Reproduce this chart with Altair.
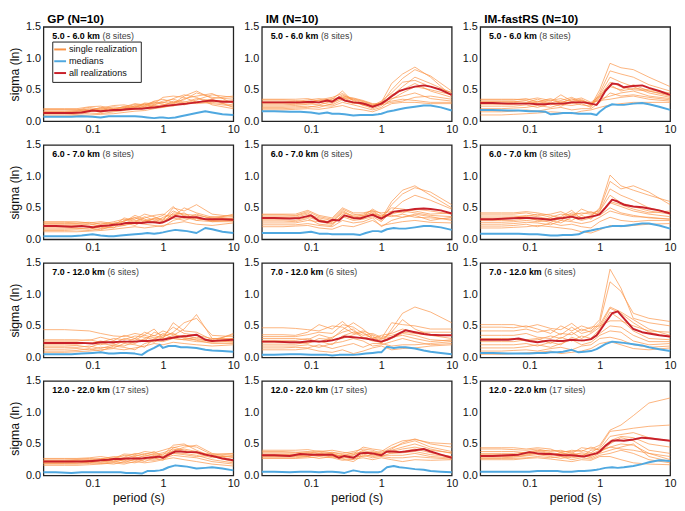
import altair as alt
import pandas as pd

# period grids (s)
FINE = [0.02, 0.03, 0.05, 0.07, 0.1, 0.13, 0.17, 0.2, 0.25, 0.3, 0.4, 0.5, 0.6, 0.75, 0.9,
        1.0, 1.2, 1.5, 1.8, 2.2, 3.0, 4.0, 5.0, 7.0, 10.0]
COARSE = [0.02, 0.04, 0.06, 0.09, 0.13, 0.2, 0.28, 0.4, 0.55, 0.75, 1.0, 1.4, 2.0, 3.0, 5.0, 10.0]

MODEL_TITLES = ["GP (N=10)", "IM (N=10)", "IM-fastRS (N=10)"]
BINS = ["5.0 - 6.0 km", "6.0 - 7.0 km", "7.0 - 12.0 km", "12.0 - 22.0 km"]
SITES = ["(8 sites)", "(8 sites)", "(6 sites)", "(17 sites)"]
KINDS = ["single realization", "medians", "all realizations"]

# ---------------- row 1: 5.0 - 6.0 km ----------------
GP_1_ALL = [0.13,0.13,0.13,0.14,0.17,0.16,0.17,0.18,0.18,0.19,0.20,0.20,0.21,0.22,0.23,0.24,0.25,0.26,0.27,0.28,0.30,0.32,0.33,0.31,0.31]
GP_1_MED = [0.07,0.07,0.07,0.08,0.07,0.06,0.08,0.08,0.08,0.08,0.08,0.07,0.06,0.05,0.06,0.06,0.05,0.06,0.08,0.10,0.13,0.16,0.14,0.11,0.10]
GP_1_SINGLE = [
    [0.08,0.08,0.09,0.10,0.11,0.12,0.14,0.16,0.17,0.20,0.22,0.25,0.28,0.30,0.32,0.30],
    [0.10,0.10,0.11,0.13,0.12,0.15,0.17,0.19,0.22,0.24,0.26,0.30,0.34,0.45,0.38,0.35],
    [0.12,0.12,0.13,0.16,0.18,0.16,0.20,0.24,0.20,0.26,0.30,0.28,0.40,0.48,0.36,0.40],
    [0.13,0.13,0.14,0.18,0.14,0.19,0.18,0.22,0.27,0.22,0.24,0.32,0.28,0.34,0.42,0.38],
    [0.14,0.14,0.15,0.15,0.20,0.17,0.22,0.20,0.24,0.30,0.27,0.24,0.31,0.28,0.30,0.26],
    [0.15,0.15,0.16,0.20,0.17,0.21,0.19,0.25,0.23,0.27,0.32,0.35,0.30,0.36,0.33,0.32],
    [0.16,0.16,0.17,0.17,0.22,0.18,0.24,0.21,0.28,0.25,0.22,0.27,0.36,0.40,0.44,0.28],
    [0.18,0.18,0.18,0.22,0.19,0.23,0.21,0.27,0.25,0.32,0.35,0.30,0.26,0.32,0.28,0.24],
    [0.19,0.19,0.19,0.18,0.21,0.25,0.26,0.23,0.29,0.28,0.38,0.40,0.38,0.30,0.35,0.22],
    [0.20,0.20,0.20,0.23,0.24,0.20,0.23,0.28,0.26,0.31,0.29,0.36,0.42,0.38,0.26,0.20],
]
IM_1_ALL = [0.30,0.30,0.30,0.30,0.31,0.30,0.33,0.31,0.38,0.33,0.30,0.29,0.27,0.23,0.26,0.28,0.34,0.42,0.48,0.51,0.55,0.57,0.55,0.50,0.42]
IM_1_MED = [0.16,0.16,0.15,0.15,0.14,0.12,0.14,0.12,0.12,0.11,0.09,0.10,0.10,0.10,0.11,0.12,0.15,0.17,0.19,0.21,0.23,0.25,0.25,0.22,0.17]
IM_1_SINGLE = [
    [0.18,0.18,0.19,0.20,0.19,0.22,0.25,0.20,0.18,0.15,0.20,0.28,0.30,0.30,0.28,0.28],
    [0.20,0.20,0.21,0.22,0.25,0.24,0.30,0.26,0.22,0.18,0.22,0.35,0.45,0.55,0.50,0.42],
    [0.22,0.22,0.23,0.24,0.22,0.28,0.38,0.30,0.26,0.20,0.25,0.40,0.55,0.70,0.60,0.45],
    [0.24,0.24,0.25,0.27,0.30,0.26,0.34,0.28,0.30,0.22,0.28,0.50,0.68,0.82,0.72,0.48],
    [0.26,0.26,0.27,0.28,0.26,0.32,0.42,0.33,0.25,0.24,0.30,0.60,0.75,0.86,0.70,0.40],
    [0.28,0.28,0.28,0.30,0.33,0.30,0.36,0.35,0.31,0.26,0.27,0.42,0.50,0.60,0.48,0.38],
    [0.30,0.30,0.30,0.32,0.29,0.35,0.48,0.31,0.28,0.23,0.30,0.36,0.40,0.45,0.36,0.32],
    [0.32,0.32,0.31,0.34,0.36,0.33,0.40,0.37,0.33,0.28,0.26,0.30,0.32,0.38,0.40,0.35],
    [0.34,0.34,0.33,0.31,0.34,0.38,0.44,0.34,0.29,0.25,0.32,0.45,0.62,0.65,0.55,0.46],
    [0.35,0.35,0.35,0.36,0.32,0.36,0.38,0.36,0.32,0.27,0.29,0.32,0.35,0.33,0.30,0.30],
]
FRS_1_ALL = [0.29,0.29,0.28,0.28,0.28,0.27,0.27,0.28,0.28,0.28,0.30,0.30,0.30,0.28,0.26,0.33,0.48,0.60,0.59,0.54,0.56,0.57,0.53,0.48,0.42]
FRS_1_MED = [0.18,0.18,0.17,0.17,0.16,0.16,0.15,0.11,0.12,0.13,0.13,0.12,0.12,0.12,0.10,0.15,0.22,0.27,0.26,0.26,0.28,0.29,0.27,0.23,0.18]
FRS_1_SINGLE = [
    [0.10,0.10,0.11,0.12,0.13,0.15,0.14,0.12,0.16,0.18,0.22,0.26,0.28,0.30,0.30,0.30],
    [0.15,0.15,0.16,0.18,0.16,0.20,0.22,0.18,0.20,0.20,0.30,0.45,0.40,0.42,0.38,0.34],
    [0.20,0.20,0.21,0.22,0.25,0.22,0.27,0.25,0.28,0.22,0.40,0.62,0.55,0.50,0.48,0.40],
    [0.24,0.24,0.24,0.26,0.22,0.28,0.24,0.30,0.26,0.24,0.45,0.80,0.75,0.70,0.58,0.48],
    [0.27,0.27,0.27,0.29,0.32,0.26,0.31,0.28,0.33,0.25,0.50,0.92,0.85,0.82,0.70,0.55],
    [0.29,0.29,0.30,0.28,0.30,0.34,0.29,0.36,0.30,0.27,0.38,0.55,0.50,0.58,0.48,0.42],
    [0.31,0.31,0.31,0.33,0.28,0.31,0.42,0.32,0.35,0.26,0.42,0.70,0.62,0.55,0.45,0.38],
    [0.32,0.32,0.32,0.30,0.35,0.29,0.33,0.38,0.31,0.28,0.35,0.40,0.45,0.48,0.40,0.36],
    [0.34,0.34,0.34,0.36,0.31,0.36,0.30,0.34,0.37,0.30,0.40,0.58,0.48,0.52,0.50,0.45],
    [0.35,0.35,0.35,0.34,0.37,0.33,0.36,0.31,0.33,0.29,0.33,0.35,0.38,0.40,0.35,0.32],
]

# ---------------- row 2: 6.0 - 7.0 km ----------------
GP_2_ALL = [0.21,0.21,0.20,0.21,0.19,0.21,0.22,0.23,0.24,0.26,0.26,0.26,0.27,0.27,0.26,0.27,0.31,0.37,0.36,0.35,0.35,0.32,0.32,0.32,0.31]
GP_2_MED = [0.05,0.05,0.05,0.06,0.08,0.06,0.05,0.05,0.06,0.07,0.08,0.09,0.10,0.09,0.10,0.11,0.13,0.15,0.14,0.13,0.10,0.18,0.16,0.12,0.10]
GP_2_SINGLE = [
    [0.12,0.12,0.12,0.13,0.14,0.16,0.18,0.20,0.18,0.20,0.22,0.25,0.28,0.24,0.22,0.26],
    [0.14,0.14,0.15,0.14,0.17,0.19,0.22,0.26,0.24,0.22,0.20,0.30,0.35,0.30,0.28,0.30],
    [0.16,0.16,0.17,0.18,0.15,0.22,0.26,0.22,0.30,0.28,0.26,0.42,0.40,0.38,0.34,0.32],
    [0.18,0.18,0.18,0.16,0.20,0.18,0.30,0.34,0.28,0.32,0.30,0.50,0.45,0.55,0.40,0.36],
    [0.20,0.20,0.20,0.21,0.18,0.24,0.22,0.28,0.36,0.30,0.28,0.36,0.50,0.42,0.35,0.38],
    [0.22,0.22,0.22,0.20,0.23,0.21,0.34,0.30,0.26,0.34,0.32,0.45,0.38,0.34,0.30,0.30],
    [0.24,0.24,0.24,0.25,0.21,0.26,0.28,0.38,0.32,0.26,0.35,0.40,0.33,0.40,0.32,0.40],
    [0.25,0.25,0.25,0.23,0.26,0.24,0.25,0.32,0.40,0.36,0.30,0.38,0.42,0.30,0.36,0.33],
    [0.27,0.27,0.26,0.27,0.24,0.28,0.32,0.27,0.34,0.38,0.40,0.34,0.30,0.36,0.28,0.28],
    [0.28,0.28,0.28,0.26,0.28,0.25,0.29,0.35,0.30,0.33,0.38,0.52,0.36,0.33,0.30,0.34],
]
IM_2_ALL = [0.34,0.34,0.33,0.34,0.38,0.29,0.27,0.31,0.30,0.38,0.34,0.33,0.36,0.39,0.35,0.33,0.38,0.44,0.45,0.46,0.48,0.49,0.48,0.46,0.41]
IM_2_MED = [0.10,0.10,0.10,0.10,0.12,0.09,0.09,0.08,0.08,0.08,0.08,0.07,0.10,0.13,0.13,0.12,0.16,0.18,0.17,0.17,0.19,0.21,0.21,0.19,0.15]
IM_2_SINGLE = [
    [0.20,0.20,0.21,0.22,0.18,0.16,0.22,0.20,0.25,0.30,0.22,0.25,0.28,0.30,0.27,0.26],
    [0.23,0.23,0.23,0.25,0.22,0.20,0.30,0.26,0.28,0.34,0.20,0.30,0.35,0.40,0.36,0.30],
    [0.26,0.26,0.26,0.30,0.28,0.24,0.36,0.30,0.32,0.36,0.28,0.45,0.60,0.70,0.62,0.48],
    [0.29,0.29,0.28,0.33,0.24,0.22,0.40,0.32,0.35,0.40,0.30,0.55,0.72,0.82,0.75,0.55],
    [0.31,0.31,0.30,0.35,0.30,0.27,0.44,0.35,0.38,0.42,0.33,0.60,0.78,0.85,0.70,0.50],
    [0.33,0.33,0.33,0.37,0.32,0.25,0.38,0.33,0.36,0.44,0.35,0.40,0.45,0.42,0.38,0.36],
    [0.35,0.35,0.35,0.40,0.34,0.30,0.46,0.36,0.33,0.40,0.38,0.36,0.40,0.35,0.34,0.32],
    [0.37,0.37,0.37,0.42,0.30,0.28,0.42,0.38,0.40,0.46,0.36,0.50,0.48,0.45,0.40,0.42],
    [0.39,0.39,0.38,0.44,0.36,0.32,0.48,0.40,0.37,0.48,0.40,0.38,0.35,0.38,0.30,0.35],
    [0.40,0.40,0.40,0.46,0.38,0.34,0.50,0.42,0.42,0.45,0.42,0.44,0.42,0.48,0.45,0.40],
]
FRS_2_ALL = [0.32,0.32,0.33,0.34,0.34,0.33,0.32,0.31,0.33,0.34,0.36,0.33,0.34,0.36,0.38,0.40,0.50,0.63,0.60,0.55,0.52,0.51,0.49,0.46,0.41]
FRS_2_MED = [0.09,0.09,0.09,0.09,0.08,0.08,0.07,0.06,0.06,0.07,0.07,0.08,0.12,0.14,0.16,0.17,0.19,0.21,0.21,0.21,0.23,0.25,0.25,0.22,0.17]
FRS_2_SINGLE = [
    [0.18,0.18,0.19,0.20,0.22,0.20,0.18,0.16,0.12,0.10,0.15,0.22,0.20,0.22,0.24,0.25],
    [0.21,0.21,0.22,0.24,0.20,0.26,0.22,0.24,0.20,0.18,0.28,0.35,0.30,0.28,0.30,0.30],
    [0.24,0.24,0.25,0.27,0.26,0.23,0.30,0.28,0.25,0.28,0.35,0.45,0.40,0.36,0.35,0.32],
    [0.27,0.27,0.28,0.30,0.28,0.30,0.26,0.35,0.30,0.34,0.40,0.58,0.52,0.45,0.40,0.36],
    [0.30,0.30,0.30,0.33,0.31,0.27,0.34,0.30,0.38,0.32,0.45,0.80,0.70,0.62,0.50,0.42],
    [0.32,0.32,0.33,0.35,0.30,0.34,0.30,0.40,0.34,0.36,0.50,1.02,0.85,0.78,0.70,0.60],
    [0.34,0.34,0.35,0.38,0.36,0.32,0.36,0.46,0.32,0.38,0.48,0.92,0.80,0.85,0.75,0.55],
    [0.37,0.37,0.37,0.36,0.40,0.35,0.40,0.38,0.42,0.40,0.42,0.60,0.55,0.48,0.42,0.45],
    [0.40,0.40,0.40,0.42,0.38,0.40,0.44,0.36,0.48,0.42,0.45,0.70,0.58,0.52,0.45,0.40],
    [0.42,0.42,0.42,0.44,0.42,0.38,0.34,0.42,0.40,0.44,0.38,0.50,0.42,0.38,0.34,0.32],
]

# ---------------- row 3: 7.0 - 12.0 km ----------------
GP_3_ALL = [0.23,0.23,0.23,0.23,0.22,0.24,0.24,0.24,0.25,0.25,0.25,0.26,0.26,0.27,0.28,0.28,0.30,0.32,0.33,0.34,0.36,0.28,0.26,0.27,0.28]
GP_3_MED = [0.05,0.05,0.05,0.06,0.07,0.08,0.06,0.06,0.07,0.07,0.06,0.04,0.10,0.15,0.20,0.15,0.18,0.18,0.16,0.16,0.15,0.12,0.11,0.10,0.09]
GP_3_SINGLE = [
    [0.08,0.08,0.09,0.10,0.12,0.14,0.12,0.15,0.18,0.22,0.20,0.24,0.22,0.20,0.18,0.20],
    [0.10,0.10,0.11,0.14,0.10,0.18,0.16,0.12,0.22,0.26,0.25,0.30,0.28,0.25,0.24,0.25],
    [0.13,0.13,0.14,0.12,0.16,0.15,0.22,0.20,0.16,0.30,0.28,0.35,0.45,0.68,0.30,0.30],
    [0.16,0.16,0.16,0.18,0.14,0.20,0.18,0.25,0.28,0.24,0.32,0.40,0.55,0.62,0.35,0.33],
    [0.18,0.18,0.19,0.16,0.22,0.19,0.26,0.22,0.30,0.35,0.30,0.55,0.42,0.40,0.28,0.36],
    [0.21,0.21,0.21,0.23,0.20,0.26,0.23,0.30,0.26,0.40,0.35,0.48,0.38,0.35,0.30,0.28],
    [0.24,0.24,0.24,0.22,0.26,0.22,0.30,0.27,0.36,0.45,0.30,0.32,0.35,0.30,0.25,0.38],
    [0.26,0.26,0.26,0.28,0.24,0.30,0.28,0.34,0.32,0.28,0.38,0.30,0.28,0.32,0.27,0.24],
    [0.28,0.28,0.28,0.27,0.32,0.27,0.35,0.30,0.40,0.34,0.42,0.36,0.32,0.27,0.22,0.22],
    [0.44,0.44,0.43,0.42,0.38,0.34,0.33,0.38,0.35,0.31,0.34,0.38,0.30,0.28,0.26,0.30],
]
IM_3_ALL = [0.25,0.25,0.24,0.24,0.26,0.25,0.26,0.27,0.30,0.33,0.32,0.31,0.30,0.28,0.26,0.25,0.28,0.33,0.38,0.43,0.40,0.37,0.36,0.35,0.35]
IM_3_MED = [0.04,0.04,0.05,0.05,0.04,0.04,0.04,0.03,0.04,0.04,0.04,0.05,0.06,0.07,0.08,0.08,0.17,0.15,0.16,0.16,0.14,0.11,0.09,0.07,0.05]
IM_3_SINGLE = [
    [0.12,0.12,0.12,0.14,0.10,0.08,0.12,0.06,0.10,0.15,0.18,0.12,0.14,0.15,0.18,0.20],
    [0.15,0.15,0.16,0.15,0.20,0.14,0.18,0.22,0.16,0.22,0.22,0.18,0.20,0.20,0.22,0.25],
    [0.18,0.18,0.18,0.20,0.16,0.22,0.25,0.30,0.26,0.18,0.20,0.25,0.30,0.25,0.20,0.22],
    [0.21,0.21,0.21,0.24,0.26,0.20,0.34,0.40,0.32,0.26,0.24,0.30,0.38,0.35,0.28,0.26],
    [0.24,0.24,0.24,0.22,0.30,0.28,0.30,0.36,0.40,0.30,0.28,0.40,0.60,0.45,0.35,0.30],
    [0.27,0.27,0.27,0.30,0.24,0.32,0.40,0.45,0.30,0.35,0.22,0.45,0.70,0.80,0.72,0.55],
    [0.30,0.30,0.30,0.28,0.36,0.30,0.44,0.55,0.45,0.32,0.30,0.55,0.52,0.50,0.45,0.45],
    [0.33,0.33,0.33,0.36,0.40,0.38,0.52,0.48,0.38,0.30,0.35,0.38,0.45,0.40,0.40,0.40],
    [0.36,0.36,0.35,0.40,0.52,0.45,0.57,0.42,0.35,0.38,0.32,0.35,0.40,0.38,0.35,0.35],
    [0.47,0.47,0.46,0.44,0.42,0.50,0.48,0.38,0.42,0.36,0.30,0.32,0.35,0.30,0.25,0.28],
]
FRS_3_ALL = [0.28,0.28,0.28,0.30,0.26,0.24,0.26,0.27,0.26,0.26,0.28,0.27,0.27,0.29,0.35,0.42,0.55,0.70,0.73,0.62,0.45,0.40,0.38,0.35,0.33]
FRS_3_MED = [0.07,0.07,0.06,0.06,0.06,0.07,0.07,0.08,0.08,0.09,0.12,0.08,0.09,0.10,0.13,0.16,0.21,0.25,0.24,0.23,0.21,0.19,0.16,0.13,0.10]
FRS_3_SINGLE = [
    [0.05,0.05,0.06,0.07,0.08,0.10,0.06,0.08,0.10,0.14,0.22,0.25,0.20,0.14,0.12,0.15],
    [0.10,0.10,0.11,0.12,0.10,0.14,0.16,0.12,0.18,0.20,0.30,0.32,0.28,0.20,0.16,0.18],
    [0.15,0.15,0.15,0.17,0.20,0.16,0.22,0.28,0.20,0.24,0.35,0.42,0.40,0.26,0.20,0.22],
    [0.20,0.20,0.20,0.22,0.18,0.24,0.20,0.32,0.26,0.28,0.38,0.50,0.48,0.35,0.25,0.25],
    [0.25,0.25,0.25,0.28,0.30,0.22,0.32,0.26,0.34,0.30,0.45,0.72,0.60,0.42,0.30,0.28],
    [0.30,0.30,0.30,0.26,0.28,0.34,0.30,0.40,0.30,0.38,0.48,0.78,0.70,0.55,0.40,0.32],
    [0.35,0.35,0.35,0.38,0.32,0.30,0.38,0.36,0.45,0.40,0.52,0.80,0.72,0.60,0.45,0.35],
    [0.42,0.42,0.42,0.45,0.40,0.44,0.36,0.48,0.38,0.42,0.55,1.20,1.05,0.70,0.62,0.57],
    [0.48,0.48,0.47,0.50,0.45,0.38,0.50,0.42,0.50,0.45,0.60,1.40,1.10,0.62,0.55,0.50],
    [0.52,0.52,0.52,0.48,0.52,0.46,0.44,0.54,0.42,0.48,0.50,0.58,0.58,0.50,0.42,0.40],
]

# ---------------- row 4: 12.0 - 22.0 km ----------------
GP_4_ALL = [0.22,0.22,0.22,0.22,0.23,0.24,0.25,0.26,0.26,0.27,0.27,0.27,0.28,0.29,0.30,0.28,0.33,0.38,0.38,0.37,0.37,0.33,0.31,0.27,0.24]
GP_4_MED = [0.05,0.05,0.04,0.05,0.05,0.05,0.05,0.05,0.05,0.04,0.04,0.03,0.07,0.07,0.08,0.09,0.13,0.16,0.15,0.14,0.11,0.12,0.13,0.11,0.08]
GP_4_SINGLE = [
    [0.16,0.16,0.16,0.17,0.18,0.20,0.18,0.22,0.20,0.22,0.25,0.28,0.25,0.22,0.18,0.15],
    [0.18,0.18,0.18,0.19,0.20,0.18,0.22,0.20,0.25,0.24,0.27,0.32,0.30,0.28,0.22,0.18],
    [0.19,0.19,0.19,0.21,0.19,0.22,0.20,0.26,0.22,0.28,0.24,0.36,0.35,0.32,0.25,0.20],
    [0.20,0.20,0.21,0.20,0.23,0.21,0.25,0.23,0.28,0.26,0.30,0.40,0.42,0.38,0.30,0.22],
    [0.21,0.21,0.22,0.23,0.21,0.25,0.23,0.29,0.26,0.32,0.28,0.44,0.48,0.45,0.33,0.25],
    [0.22,0.22,0.23,0.22,0.25,0.23,0.28,0.26,0.32,0.30,0.34,0.38,0.45,0.48,0.35,0.28],
    [0.23,0.23,0.24,0.25,0.24,0.28,0.26,0.32,0.30,0.35,0.32,0.48,0.50,0.40,0.30,0.30],
    [0.24,0.24,0.25,0.24,0.27,0.26,0.32,0.30,0.35,0.33,0.36,0.42,0.38,0.35,0.28,0.32],
    [0.26,0.26,0.26,0.27,0.26,0.30,0.29,0.35,0.33,0.38,0.30,0.35,0.33,0.30,0.32,0.34],
    [0.27,0.27,0.27,0.28,0.30,0.27,0.34,0.33,0.38,0.36,0.40,0.45,0.40,0.36,0.34,0.35],
]
IM_4_ALL = [0.32,0.32,0.31,0.34,0.33,0.33,0.33,0.33,0.28,0.31,0.28,0.35,0.36,0.35,0.33,0.32,0.38,0.38,0.37,0.38,0.40,0.42,0.38,0.33,0.28]
IM_4_MED = [0.06,0.06,0.05,0.06,0.06,0.05,0.06,0.06,0.05,0.04,0.08,0.06,0.05,0.05,0.05,0.06,0.13,0.15,0.13,0.12,0.10,0.09,0.07,0.06,0.05]
IM_4_SINGLE = [
    [0.27,0.27,0.27,0.28,0.30,0.28,0.24,0.26,0.28,0.25,0.28,0.25,0.22,0.25,0.24,0.25],
    [0.28,0.28,0.28,0.30,0.27,0.30,0.26,0.22,0.32,0.28,0.30,0.28,0.28,0.30,0.28,0.26],
    [0.30,0.30,0.30,0.31,0.33,0.29,0.30,0.25,0.34,0.30,0.32,0.32,0.32,0.35,0.30,0.28],
    [0.31,0.31,0.31,0.33,0.31,0.33,0.27,0.30,0.30,0.33,0.30,0.36,0.38,0.42,0.36,0.30],
    [0.32,0.32,0.32,0.30,0.35,0.31,0.32,0.28,0.36,0.35,0.34,0.40,0.45,0.50,0.42,0.35],
    [0.33,0.33,0.33,0.36,0.32,0.35,0.29,0.33,0.38,0.32,0.36,0.44,0.50,0.55,0.45,0.38],
    [0.34,0.34,0.34,0.35,0.37,0.34,0.31,0.36,0.35,0.38,0.33,0.42,0.52,0.58,0.50,0.45],
    [0.36,0.36,0.36,0.38,0.34,0.37,0.33,0.32,0.40,0.36,0.38,0.48,0.55,0.57,0.52,0.50],
    [0.38,0.38,0.37,0.37,0.39,0.36,0.35,0.38,0.42,0.40,0.35,0.38,0.42,0.45,0.40,0.36],
    [0.40,0.40,0.40,0.41,0.38,0.40,0.37,0.34,0.45,0.42,0.40,0.35,0.36,0.38,0.33,0.30],
]
FRS_4_ALL = [0.31,0.31,0.32,0.33,0.37,0.35,0.34,0.34,0.33,0.32,0.32,0.31,0.30,0.33,0.35,0.38,0.47,0.55,0.56,0.55,0.57,0.60,0.59,0.57,0.55]
FRS_4_MED = [0.06,0.06,0.06,0.06,0.06,0.07,0.07,0.07,0.07,0.06,0.06,0.07,0.07,0.08,0.09,0.10,0.12,0.13,0.12,0.13,0.15,0.18,0.21,0.24,0.23]
FRS_4_SINGLE = [
    [0.25,0.25,0.25,0.27,0.28,0.26,0.24,0.22,0.25,0.24,0.30,0.30,0.25,0.20,0.18,0.17],
    [0.27,0.27,0.27,0.28,0.30,0.28,0.30,0.25,0.28,0.26,0.32,0.35,0.40,0.35,0.25,0.20],
    [0.28,0.28,0.29,0.31,0.33,0.30,0.27,0.30,0.32,0.28,0.35,0.40,0.45,0.50,0.30,0.22],
    [0.30,0.30,0.30,0.32,0.36,0.33,0.32,0.28,0.30,0.30,0.38,0.45,0.50,0.48,0.35,0.25],
    [0.31,0.31,0.32,0.33,0.38,0.35,0.30,0.34,0.34,0.32,0.36,0.50,0.60,0.55,0.40,0.35],
    [0.33,0.33,0.33,0.35,0.34,0.32,0.36,0.32,0.36,0.34,0.40,0.55,0.62,0.60,0.50,0.45],
    [0.35,0.35,0.35,0.37,0.40,0.36,0.34,0.36,0.30,0.40,0.42,0.62,0.65,0.68,0.60,0.55],
    [0.38,0.38,0.38,0.36,0.39,0.40,0.38,0.38,0.40,0.36,0.45,0.70,0.72,0.75,0.78,0.80],
    [0.42,0.42,0.41,0.40,0.42,0.38,0.40,0.35,0.44,0.42,0.48,0.72,0.80,0.95,1.15,1.23],
    [0.44,0.44,0.44,0.42,0.44,0.42,0.36,0.40,0.38,0.45,0.40,0.45,0.42,0.40,0.35,0.30],
]

PANELS = [
    [(GP_1_SINGLE, GP_1_MED, GP_1_ALL), (IM_1_SINGLE, IM_1_MED, IM_1_ALL), (FRS_1_SINGLE, FRS_1_MED, FRS_1_ALL)],
    [(GP_2_SINGLE, GP_2_MED, GP_2_ALL), (IM_2_SINGLE, IM_2_MED, IM_2_ALL), (FRS_2_SINGLE, FRS_2_MED, FRS_2_ALL)],
    [(GP_3_SINGLE, GP_3_MED, GP_3_ALL), (IM_3_SINGLE, IM_3_MED, IM_3_ALL), (FRS_3_SINGLE, FRS_3_MED, FRS_3_ALL)],
    [(GP_4_SINGLE, GP_4_MED, GP_4_ALL), (IM_4_SINGLE, IM_4_MED, IM_4_ALL), (FRS_4_SINGLE, FRS_4_MED, FRS_4_ALL)],
]

ORANGE = "#FA9346"
BLUE = "#4FA8E0"
RED = "#C8202A"
FONT = "Liberation Sans"
W, H = 193, 96

# Arial/Liberation Sans Bold advance widths (per 1000 em) for the annotation text
BOLD_W = {"0": 556, "1": 556, "2": 556, "5": 556, "6": 556, "7": 556, ".": 278, " ": 278,
          "-": 333, "k": 556, "m": 889}
ANN_SIZE = 9


def text_width(s, size):
    return sum(BOLD_W.get(c, 556) for c in s) * size / 1000.0


LEGEND = alt.Legend(orient="none", legendX=9, legendY=15, title=None, direction="vertical",
                    symbolType="M-1.5,0H1.5", symbolSize=64, symbolStrokeWidth=2,
                    labelFont=FONT, labelFontSize=9.3, labelColor="#111", labelOffset=4,
                    strokeColor="#222", fillColor="white", padding=3, rowPadding=1,
                    symbolOpacity=1)
COLOR_SCALE = alt.Scale(domain=KINDS, range=[ORANGE, BLUE, RED])


def panel(ri, ci):
    single, med, allr = PANELS[ri][ci]
    rows = []
    for k, line in enumerate(single):
        for p, v in zip(COARSE, line):
            rows.append({"period": p, "sigma": v, "line": k, "kind": KINDS[0]})
    df_s = pd.DataFrame(rows)
    df_m = pd.DataFrame({"period": FINE, "sigma": med, "kind": KINDS[1]})
    df_a = pd.DataFrame({"period": FINE, "sigma": allr, "kind": KINDS[2]})

    x = alt.X("period:Q",
              scale=alt.Scale(type="log", domain=[0.02, 10], nice=False),
              axis=alt.Axis(values=[0.1, 1, 10], format="~g", labelPadding=2,
                            title="period (s)" if ri == 3 else None, titlePadding=3))
    y = alt.Y("sigma:Q",
              scale=alt.Scale(domain=[0, 1.5], nice=False, zero=True),
              axis=alt.Axis(values=[0, 0.5, 1.0, 1.5], format=".1f", labelPadding=3,
                            title="sigma (ln)" if ci == 0 else None, titlePadding=4))
    color = alt.Color("kind:N", scale=COLOR_SCALE, legend=LEGEND)

    l_single = alt.Chart(df_s).mark_line(strokeWidth=1, opacity=0.7).encode(
        x=x, y=y, color=color, detail="line:N")
    l_med = alt.Chart(df_m).mark_line(strokeWidth=2, strokeJoin="round").encode(
        x=x, y=y, color=color)
    l_all = alt.Chart(df_a).mark_line(strokeWidth=2, strokeJoin="round").encode(
        x=x, y=y, color=color)

    bold = BINS[ri]
    t_bold = alt.Chart(pd.DataFrame({"t": [bold]})).mark_text(
        font=FONT, fontSize=ANN_SIZE, fontWeight="bold", align="left", baseline="alphabetic",
        color="#000").encode(text="t:N", x=alt.value(9), y=alt.value(12))
    t_norm = alt.Chart(pd.DataFrame({"t": [SITES[ri]]})).mark_text(
        font=FONT, fontSize=ANN_SIZE, align="left", baseline="alphabetic",
        color="#444").encode(text="t:N", x=alt.value(9 + text_width(bold + " ", ANN_SIZE)),
                             y=alt.value(12))
    layers = [l_single, l_med, l_all, t_bold, t_norm]
    if ri == 0:
        t_title = alt.Chart(pd.DataFrame({"t": [MODEL_TITLES[ci]]})).mark_text(
            font=FONT, fontSize=12, fontWeight="bold", align="left", baseline="alphabetic",
            color="#000").encode(text="t:N", x=alt.value(4), y=alt.value(-4))
        layers.append(t_title)

    return alt.layer(*layers).properties(width=W, height=H)


charts = [panel(ri, ci) for ri in range(4) for ci in range(3)]

chart = alt.ConcatChart(
    concat=charts, columns=3, spacing={"row": 24, "column": 29}, bounds="flush"
).resolve_scale(color="shared").properties(padding=0).configure_view(
    stroke="#222", strokeWidth=1.3
).configure_axis(
    ticks=False, domain=False, grid=False, labelFont=FONT, labelFontSize=11,
    labelColor="#111", titleFont=FONT, titleFontSize=12.5, titleFontWeight="normal",
    titleColor="#111", labelFlush=False
)

chart.save("out.html", embed_options={"renderer": "svg", "actions": False})
